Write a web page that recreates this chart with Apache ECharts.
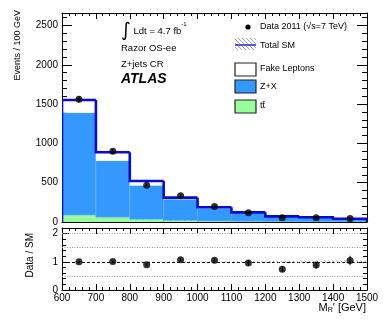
<!DOCTYPE html>
<html>
<head>
<meta charset="utf-8">
<script src="https://cdn.jsdelivr.net/npm/echarts@6/dist/echarts.min.js"></script>
<style>
  html, body { margin: 0; padding: 0; background: #fff; }
  #chart { width: 390px; height: 321px; }
</style>
</head>
<body>
<div id="chart"></div>
<script>
// bins of 100 GeV in M_R'
const binLow = [600, 700, 800, 900, 1000, 1100, 1200, 1300, 1400]
const binHigh = [700, 800, 900, 1000, 1100, 1200, 1300, 1400, 1500]
// stacked backgrounds, bottom to top
const ttbar = [88, 62, 34, 20, 12, 8, 5, 4, 3]
const zjets = [1303, 718, 431, 268, 163, 107, 61, 51, 35]
const fakes = [161, 107, 57, 22, 12, 8, 6, 5, 4]
const smErr = [8, 6, 5, 4, 3, 2, 3, 3, 2]
// data 2011
const dataVals = [1562, 900, 468, 334, 198, 118, 53, 53, 44]
const dataErr = [40, 30, 22, 18, 14, 11, 7, 7, 7]

const yTicks = { min: 0, max: 2660, interval: 500 }
const rTicks = { min: 0, max: 2.2, interval: 1 }
const refLines = [0.5, 1.5, 2]

const FONT = 'Liberation Sans'
const total = ttbar.map((v, i) => v + zjets[i] + fakes[i])
const centre = binLow.map((v, i) => (v + binHigh[i]) / 2)

// hatch pattern for the SM uncertainty
const hatch = document.createElement('canvas')
hatch.width = 4
hatch.height = 4
const hc = hatch.getContext('2d')
hc.strokeStyle = '#8a8aa0'
hc.lineWidth = 0.8
hc.beginPath()
hc.moveTo(0, 0); hc.lineTo(4, 4)
hc.moveTo(-1, 3); hc.lineTo(1, 5)
hc.moveTo(3, -1); hc.lineTo(5, 1)
hc.stroke()
const hatchFill = { image: hatch, repeat: 'repeat' }

const rectRender = (fill, stroke) => (params, api) => {
  const a = api.coord([api.value(0), api.value(3)])
  const b = api.coord([api.value(1), api.value(2)])
  return {
    type: 'rect',
    shape: { x: a[0], y: a[1], width: b[0] - a[0], height: b[1] - a[1] },
    style: { fill: fill, stroke: stroke || null, lineWidth: stroke ? 0.6 : 0 }
  }
}

const stackData = (lower, upper) => binLow.map((lo, i) => [lo, binHigh[i], lower[i], upper[i]])
const base0 = ttbar.map(() => 0)
const topTt = ttbar.slice()
const topZ = ttbar.map((v, i) => v + zjets[i])

const outlineData = binLow.map((lo, i) => [lo, binHigh[i], i ? total[i - 1] : 0, total[i], i === binLow.length - 1 ? 0 : null])

const errRender = (params, api) => {
  const a = api.coord([api.value(0), api.value(1)])
  const b = api.coord([api.value(0), api.value(2)])
  return { type: 'line', shape: { x1: a[0], y1: a[1], x2: b[0], y2: b[1] }, style: { stroke: '#000', lineWidth: 1 } }
}

const ratio = dataVals.map((v, i) => v / total[i])

const tickStyle = { color: '#000', width: 1 }
const plain = v => String(v)
const xAxis = (grid, pos, labels) => ({
  type: 'value', gridIndex: grid, position: pos, min: 600, max: 1500, interval: 100,
  axisLine: { show: true, onZero: false, lineStyle: tickStyle },
  axisTick: { show: true, inside: true, length: 6, lineStyle: tickStyle },
  minorTick: { show: true, splitNumber: 5, length: 3, lineStyle: tickStyle },
  axisLabel: { show: labels, formatter: plain, color: '#000', fontFamily: FONT, fontSize: 10, margin: 3 },
  splitLine: { show: false }
})
const yAxis = (grid, pos, t, labels, major, minor) => ({
  type: 'value', gridIndex: grid, position: pos, min: t.min, max: t.max, interval: t.interval,
  axisLine: { show: true, onZero: false, lineStyle: tickStyle },
  axisTick: { show: true, inside: true, length: major, lineStyle: tickStyle },
  minorTick: { show: true, splitNumber: 5, length: minor, lineStyle: tickStyle },
  axisLabel: { show: labels, formatter: plain, showMaxLabel: false, color: '#000', fontFamily: FONT, fontSize: 10, margin: 4 },
  splitLine: { show: false }
})

const txt = (x, y, text, extra, rot) => ({
  type: 'text', x: x, y: y, rotation: rot || 0,
  style: Object.assign({ text: text, fill: '#000', font: '9px ' + FONT, textVerticalAlign: 'middle' }, extra || {})
})
const box = (x, y, fill) => ({
  type: 'rect', shape: { x: x, y: y, width: 21, height: 13 },
  style: { fill: fill, stroke: '#222', lineWidth: 1.2 }
})

const chart = echarts.init(document.getElementById('chart'), null, { renderer: 'canvas' })
chart.setOption({
  animation: false,
  backgroundColor: '#fff',
  grid: [
    { left: 62, right: 23, top: 13, bottom: 99, containLabel: false, outerBoundsMode: 'none' },
    { left: 62, right: 23, top: 228, bottom: 31, containLabel: false, outerBoundsMode: 'none' }
  ],
  xAxis: [
    xAxis(0, 'bottom', false),
    xAxis(0, 'top', false),
    xAxis(1, 'bottom', true),
    xAxis(1, 'top', false)
  ],
  yAxis: [
    yAxis(0, 'left', yTicks, true, 10, 5),
    yAxis(0, 'right', yTicks, false, 10, 5),
    yAxis(1, 'left', rTicks, true, 7, 4),
    yAxis(1, 'right', rTicks, false, 7, 4)
  ],
  series: [
    { name: 'tt', type: 'custom', xAxisIndex: 0, yAxisIndex: 0, clip: true,
      renderItem: rectRender('#99ff99'), data: stackData(base0, topTt), encode: { x: [0, 1], y: [2, 3] } },
    { name: 'Z+X', type: 'custom', xAxisIndex: 0, yAxisIndex: 0, clip: true,
      renderItem: rectRender('#3399ff', '#66b3ff'), data: stackData(topTt, topZ), encode: { x: [0, 1], y: [2, 3] } },
    { name: 'Fake Leptons', type: 'custom', xAxisIndex: 0, yAxisIndex: 0, clip: true,
      renderItem: rectRender('#ffffff'), data: stackData(topZ, total), encode: { x: [0, 1], y: [2, 3] } },
    { name: 'SM band', type: 'custom', xAxisIndex: 0, yAxisIndex: 0, clip: true,
      renderItem: rectRender(hatchFill),
      data: stackData(total.map((v, i) => v - smErr[i]), total.map((v, i) => v + smErr[i])),
      encode: { x: [0, 1], y: [2, 3] } },
    { name: 'Total SM', type: 'custom', xAxisIndex: 0, yAxisIndex: 0, clip: true,
      renderItem: (params, api) => {
        const pts = [
          api.coord([api.value(0), api.value(2)]),
          api.coord([api.value(0), api.value(3)]),
          api.coord([api.value(1), api.value(3)])
        ]
        if (api.value(4) === 0) pts.push(api.coord([api.value(1), 0]))
        return { type: 'polyline', shape: { points: pts },
          style: { stroke: '#0a0ad8', lineWidth: 2.6, fill: null, lineJoin: 'miter' } }
      },
      data: outlineData, encode: { x: [0, 1], y: [2, 3] } },
    { name: 'data err', type: 'custom', xAxisIndex: 0, yAxisIndex: 0,
      renderItem: errRender,
      data: centre.map((c, i) => [c, dataVals[i] - dataErr[i], dataVals[i] + dataErr[i]]), encode: { x: 0, y: [1, 2] } },
    { name: 'Data 2011', type: 'scatter', xAxisIndex: 0, yAxisIndex: 0, symbol: 'circle', symbolSize: 7,
      itemStyle: { color: '#000' }, data: centre.map((c, i) => [c, dataVals[i]]) },

    // ratio panel
    { name: 'ratio band', type: 'custom', xAxisIndex: 2, yAxisIndex: 2, clip: true,
      renderItem: rectRender(hatchFill),
      data: stackData(total.map((v, i) => 1 - smErr[i] / v), total.map((v, i) => 1 + smErr[i] / v)),
      encode: { x: [0, 1], y: [2, 3] } },
    { name: 'ratio err', type: 'custom', xAxisIndex: 2, yAxisIndex: 2,
      renderItem: errRender,
      data: centre.map((c, i) => [c, ratio[i] - dataErr[i] / total[i], ratio[i] + dataErr[i] / total[i]]),
      encode: { x: 0, y: [1, 2] } },
    { name: 'ratio', type: 'scatter', xAxisIndex: 2, yAxisIndex: 2, symbol: 'circle', symbolSize: 7,
      itemStyle: { color: '#000' }, data: centre.map((c, i) => [c, ratio[i]]), z: 5,
      markLine: {
        silent: true, symbol: 'none', label: { show: false }, z: 1,
        data: refLines.map(v => ({ yAxis: v, lineStyle: { color: '#999', type: [1, 1.5], width: 1 } }))
          .concat([{ yAxis: 1, lineStyle: { color: '#000', type: [3, 2], width: 1 } }])
      } }
  ],
  graphic: [
    // axis titles
    txt(18, 10, 'Events / 100 GeV', { textAlign: 'right', font: '9px ' + FONT }, Math.PI / 2),
    txt(30, 233, 'Data / SM', { textAlign: 'right', font: '10px ' + FONT }, Math.PI / 2),
    { type: 'text', x: 366, y: 308, style: {
      text: "{m|M}{s|R}{m|' [GeV]}", textAlign: 'right', textVerticalAlign: 'middle',
      rich: { m: { fontFamily: FONT, fontSize: 11, fill: '#000' },
        s: { fontFamily: FONT, fontSize: 7, fill: '#000', verticalAlign: 'bottom', padding: [4, 0, 0, 0] } } } },
    // labels
    { type: 'text', x: 121, y: 31, style: {
      text: '{i|\u222B}{t| Ldt = 4.7 fb}{s|-1}', textVerticalAlign: 'middle',
      rich: { i: { fontFamily: 'DejaVu Sans', fontSize: 19, fill: '#000' },
        t: { fontFamily: FONT, fontSize: 9.5, fill: '#000' },
        s: { fontFamily: FONT, fontSize: 6, fill: '#000', verticalAlign: 'top', padding: [0, 0, 6, 0] } } } },
    txt(121, 48, 'Razor OS-ee', { font: '9.5px ' + FONT }),
    txt(121, 64, 'Z+jets CR', { font: '9.5px ' + FONT }),
    txt(121, 79, 'ATLAS', { font: 'italic bold 14px ' + FONT }),
    // legend
    { type: 'circle', shape: { cx: 248, cy: 27, r: 2.6 }, style: { fill: '#000' } },
    txt(260, 27, 'Data 2011 (\u221As=7 TeV)'),
    { type: 'rect', shape: { x: 235, y: 38, width: 21, height: 12 }, style: { fill: hatchFill } },
    { type: 'line', shape: { x1: 235, y1: 45, x2: 256, y2: 45 }, style: { stroke: '#0a0ad8', lineWidth: 1.3 } },
    txt(260, 46, 'Total SM'),
    box(235, 63, '#ffffff'),
    txt(260, 69, 'Fake Leptons'),
    box(235, 80, '#3399ff'),
    txt(260, 87, 'Z+X'),
    box(235, 100, '#99ff99'),
    txt(260, 106, 't\u0074\u0304')
  ]
})
</script>
</body>
</html>
